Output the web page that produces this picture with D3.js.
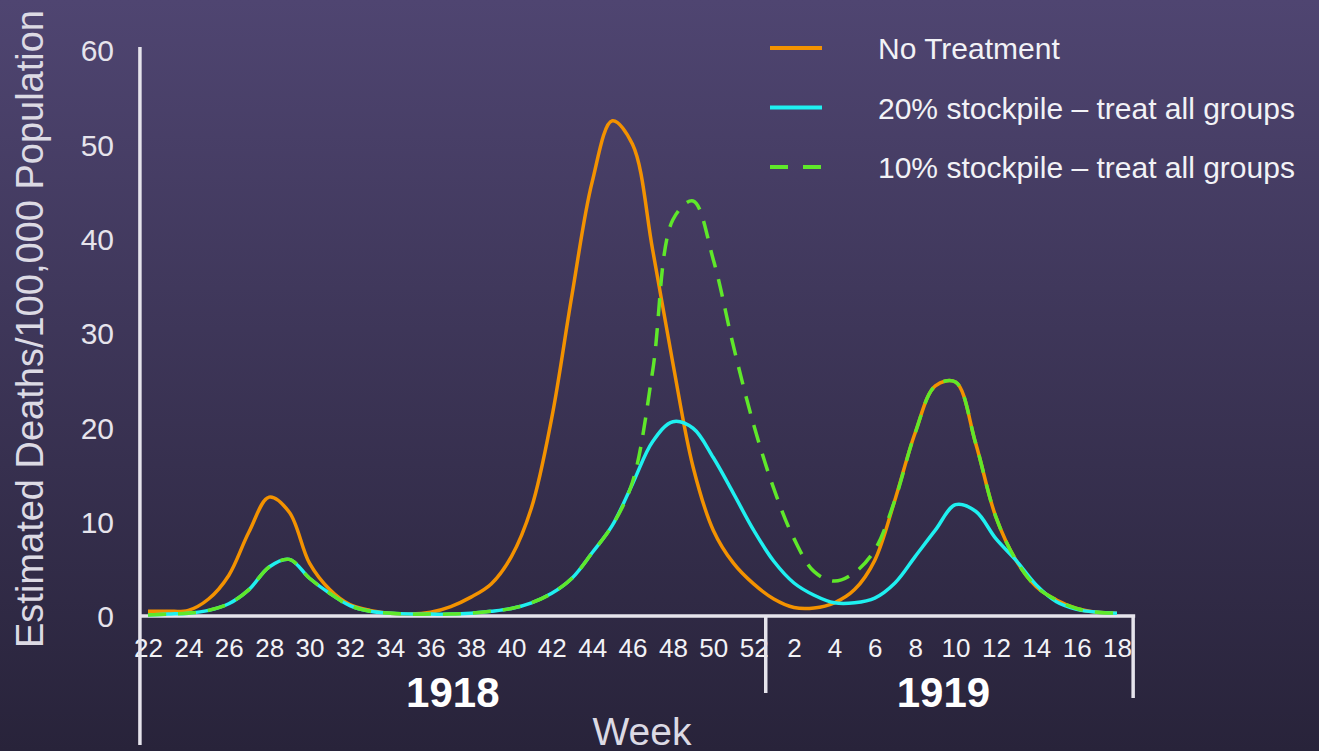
<!DOCTYPE html>
<html>
<head>
<meta charset="utf-8">
<script src="https://cdn.jsdelivr.net/npm/d3@7"></script>
<style>
  body { margin: 0; background: #2b253d; }
  svg { display: block; }
</style>
</head>
<body>
<div id="chart"></div>
<script>
// Week labels along the x axis: 1918 weeks 22-52, then 1919 weeks 1-18
var weeks1918 = [22,23,24,25,26,27,28,29,30,31,32,33,34,35,36,37,38,39,40,41,42,43,44,45,46,47,48,49,50,51,52];
var weeks1919 = [1,2,3,4,5,6,7,8,9,10,11,12,13,14,15,16,17,18];
var weeks = weeks1918.concat(weeks1919);
var years = ["1918", "1919"];

// Estimated deaths per 100,000, one value per week
var noTreatment = [0.5,0.5,0.6,1.8,4.3,8.9,12.6,11.0,5.6,2.8,1.2,0.6,0.3,0.2,0.4,1.0,2.0,3.4,6.3,11.5,21,34,46,52.5,50,38.8,26.8,15.8,9.1,5.6,3.4,
                   1.8,0.9,0.85,1.4,2.8,5.9,12.3,19.4,24.4,24.8,18.3,10.5,5.9,3.1,1.7,0.8,0.4,0.3];
var stockpile20 = [0.1,0.2,0.3,0.6,1.3,2.8,5.2,6.0,4.0,2.4,1.1,0.5,0.3,0.2,0.2,0.2,0.3,0.5,0.8,1.4,2.4,4.0,6.7,9.6,14.0,18.5,20.6,19.9,16.8,13.0,9.1,
                   5.8,3.5,2.2,1.4,1.4,1.9,3.5,6.3,9.1,11.8,11.1,8.2,5.9,3.3,1.5,0.7,0.4,0.3];
var stockpile10 = [0.1,0.2,0.3,0.6,1.3,2.8,5.2,6.0,4.0,2.4,1.1,0.5,0.3,0.2,0.2,0.2,0.3,0.5,0.8,1.4,2.4,4.0,6.7,9.6,14.2,26,42,44,37.8,28.6,20.3,
                   13.5,8.2,4.7,3.7,4.6,7.0,12.3,19.4,24.4,24.8,18.3,10.5,5.9,3.1,1.7,0.8,0.4,0.3];

var seriesNames = ["No Treatment", "20% stockpile \u2013 treat all groups", "10% stockpile \u2013 treat all groups"];
var yTicks = [0, 10, 20, 30, 40, 50, 60];

function drawChart() {
    var svgWidth = 1319;
    var svgHeight = 751;

    var svg = d3.select("#chart")
        .append("svg")
        .attr("width", svgWidth)
        .attr("height", svgHeight);

    // background gradient, purple at the top to dark at the bottom
    var grad = svg.append("defs").append("linearGradient")
        .attr("id", "bg")
        .attr("x1", 0).attr("y1", 0).attr("x2", 0).attr("y2", 1);
    grad.append("stop").attr("offset", "0%").attr("stop-color", "#4f4571");
    grad.append("stop").attr("offset", "100%").attr("stop-color", "#28233a");

    svg.append("rect")
        .attr("width", svgWidth)
        .attr("height", svgHeight)
        .attr("fill", "url(#bg)");

    // scales: x runs over week index, y over deaths
    var x = d3.scaleLinear()
        .domain([0, weeks.length - 1])
        .range([148, 1117]);

    var y = d3.scaleLinear()
        .domain([0, 60])
        .range([616, 50]);

    var axisColor = "#e6e4ec";
    var axisStart = x(-0.4);
    var yearBreak = x(30.6);
    var axisEnd = x(48.9);

    // y tick labels
    var yAxis = d3.axisLeft(y).tickValues(yTicks).tickSize(0).tickPadding(0);
    var yG = svg.append("g")
        .attr("transform", "translate(114,0)")
        .call(yAxis);
    yG.select(".domain").remove();
    yG.selectAll("text")
        .attr("fill", "#e6e4ec")
        .attr("font-family", "Liberation Sans, Arial, sans-serif")
        .attr("font-size", 30)
        .attr("dy", "0.36em");

    // x tick labels, every second week
    var evenIdx = weeks.map(function(w, i) { return i; }).filter(function(i) { return weeks[i] % 2 === 0; });
    var xAxis = d3.axisBottom(x)
        .tickValues(evenIdx)
        .tickFormat(function(i) { return weeks[i]; })
        .tickSize(0)
        .tickPadding(0);
    var xG = svg.append("g")
        .attr("transform", "translate(0,657)")
        .call(xAxis);
    xG.select(".domain").remove();
    xG.selectAll("text")
        .attr("fill", "#f2f2f6")
        .attr("font-family", "Liberation Sans, Arial, sans-serif")
        .attr("font-size", 26)
        .attr("dy", 0);

    // axis lines
    svg.append("line")
        .attr("x1", axisStart).attr("x2", axisStart)
        .attr("y1", 47).attr("y2", 745)
        .attr("stroke", axisColor).attr("stroke-width", 3.5);
    svg.append("line")
        .attr("x1", axisStart).attr("x2", axisEnd)
        .attr("y1", y(0)).attr("y2", y(0))
        .attr("stroke", axisColor).attr("stroke-width", 3.5);

    // year separators
    svg.append("line")
        .attr("x1", yearBreak).attr("x2", yearBreak)
        .attr("y1", y(0)).attr("y2", 693)
        .attr("stroke", axisColor).attr("stroke-width", 3.5);
    svg.append("line")
        .attr("x1", x(48.8)).attr("x2", x(48.8))
        .attr("y1", y(0)).attr("y2", 698)
        .attr("stroke", axisColor).attr("stroke-width", 3.5);

    // year labels
    var yearCenters = [(axisStart + yearBreak) / 2, (yearBreak + x(48.8)) / 2 - 6];
    svg.selectAll(".year")
        .data(years)
        .enter()
        .append("text")
        .attr("class", "year")
        .attr("x", function(d, i) { return yearCenters[i]; })
        .attr("y", 707)
        .attr("text-anchor", "middle")
        .attr("fill", "#ffffff")
        .attr("font-family", "Liberation Sans, Arial, sans-serif")
        .attr("font-weight", "bold")
        .attr("font-size", 42)
        .text(function(d) { return d; });

    // axis titles
    svg.append("text")
        .attr("x", 642)
        .attr("y", 745)
        .attr("text-anchor", "middle")
        .attr("fill", "#dcdae4")
        .attr("font-family", "Liberation Sans, Arial, sans-serif")
        .attr("font-size", 39)
        .text("Week");

    svg.append("text")
        .attr("transform", "translate(43,329) rotate(-90)")
        .attr("text-anchor", "middle")
        .attr("fill", "#dcdae4")
        .attr("font-family", "Liberation Sans, Arial, sans-serif")
        .attr("font-size", 38)
        .text("Estimated Deaths/100,000 Population");

    // the three series
    var line = d3.line()
        .x(function(d, i) { return x(i); })
        .y(function(d) { return y(d); })
        .curve(d3.curveCatmullRom.alpha(0.5));

    var series = [
        { name: seriesNames[0], values: noTreatment, color: "#f39200", dash: null },
        { name: seriesNames[1], values: stockpile20, color: "#1ff0f0", dash: null },
        { name: seriesNames[2], values: stockpile10, color: "#5fe82a", dash: "18,12" }
    ];

    svg.selectAll(".series")
        .data(series)
        .enter()
        .append("path")
        .attr("class", "series")
        .attr("d", function(d) { return line(d.values); })
        .attr("fill", "none")
        .attr("stroke", function(d) { return d.color; })
        .attr("stroke-width", 3.5)
        .attr("stroke-dasharray", function(d) { return d.dash; });

    // legend
    var legend = svg.selectAll(".legend")
        .data(series)
        .enter()
        .append("g")
        .attr("class", "legend")
        .attr("transform", function(d, i) { return "translate(0," + (48 + i * 59.5) + ")"; });

    legend.append("line")
        .attr("x1", 770).attr("x2", 822)
        .attr("stroke", function(d) { return d.color; })
        .attr("stroke-width", 4)
        .attr("stroke-dasharray", function(d) { return d.dash ? "18,15" : null; });

    legend.append("text")
        .attr("x", 878)
        .attr("y", 11)
        .attr("fill", "#f2f2f6")
        .attr("font-family", "Liberation Sans, Arial, sans-serif")
        .attr("font-size", 30)
        .text(function(d) { return d.name; });
}

drawChart();
</script>
</body>
</html>
